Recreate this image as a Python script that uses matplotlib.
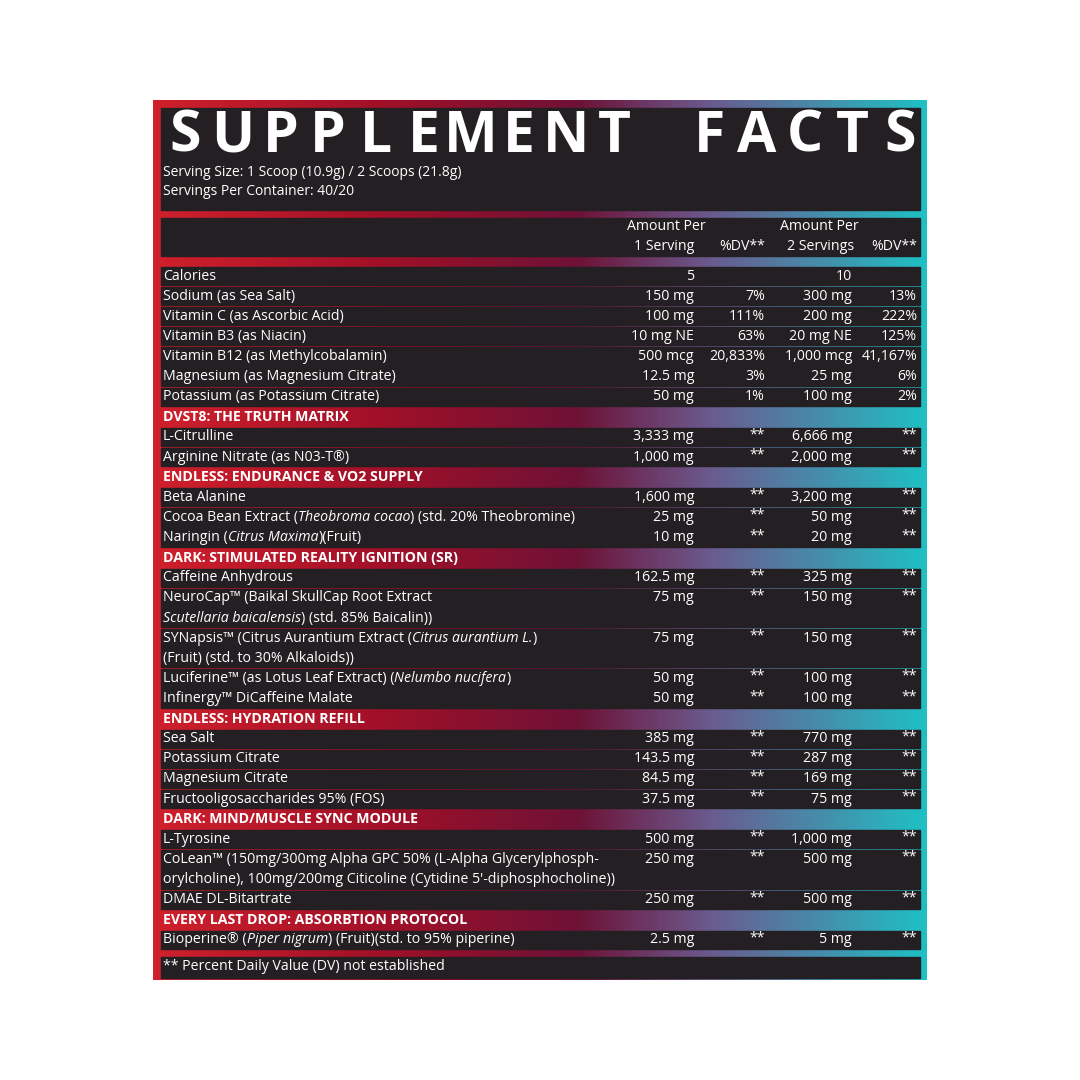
import numpy as np
import matplotlib
matplotlib.use('Agg')
import matplotlib.pyplot as plt
from matplotlib.colors import LinearSegmentedColormap
from matplotlib.patches import Rectangle

plt.rcParams['font.family'] = ['Open Sans', 'DejaVu Sans']

title = 'SUPPLEMENT FACTS'
serving_lines = ['Serving Size: 1 Scoop (10.9g) / 2 Scoops (21.8g)', 'Servings Per Container: 40/20']
footer = '** Percent Daily Value (DV) not established'

# rows: (kind, name segments, amount1, dv1, amount2, dv2, slots)
# name segments: list of (text, italic)
rows = [
    ('row', [('Calories', 0)], '5', '', '10', '', 1),
    ('row', [('Sodium (as Sea Salt)', 0)], '150 mg', '7%', '300 mg', '13%', 1),
    ('row', [('Vitamin C (as Ascorbic Acid)', 0)], '100 mg', '111%', '200 mg', '222%', 1),
    ('row', [('Vitamin B3 (as Niacin)', 0)], '10 mg NE', '63%', '20 mg NE', '125%', 1),
    ('row', [('Vitamin B12 (as Methylcobalamin)', 0)], '500 mcg', '20,833%', '1,000 mcg', '41,167%', 1),
    ('row', [('Magnesium (as Magnesium Citrate)', 0)], '12.5 mg', '3%', '25 mg', '6%', 1),
    ('row', [('Potassium (as Potassium Citrate)', 0)], '50 mg', '1%', '100 mg', '2%', 1),
    ('head', 'DVST8: THE TRUTH MATRIX'),
    ('row', [('L-Citrulline', 0)], '3,333 mg', '**', '6,666 mg', '**', 1),
    ('row', [('Arginine Nitrate (as N03-T®)', 0)], '1,000 mg', '**', '2,000 mg', '**', 1),
    ('head', 'ENDLESS: ENDURANCE & VO2 SUPPLY'),
    ('row', [('Beta Alanine', 0)], '1,600 mg', '**', '3,200 mg', '**', 1),
    ('row', [('Cocoa Bean Extract (', 0), ('Theobroma cocao', 1), (') (std. 20% Theobromine)', 0)], '25 mg', '**', '50 mg', '**', 1),
    ('row', [('Naringin (', 0), ('Citrus Maxima', 1), (')(Fruit)', 0)], '10 mg', '**', '20 mg', '**', 1),
    ('head', 'DARK: STIMULATED REALITY IGNITION (SR)'),
    ('row', [('Caffeine Anhydrous', 0)], '162.5 mg', '**', '325 mg', '**', 1),
    ('row', [('NeuroCap™ (Baikal SkullCap Root Extract', 0), ('\n', 0), ('Scutellaria baicalensis', 1), (') (std. 85% Baicalin))', 0)], '75 mg', '**', '150 mg', '**', 2),
    ('row', [('SYNapsis™ (Citrus Aurantium Extract (', 0), ('Citrus aurantium L.', 1), (')', 0), ('\n', 0), ('(Fruit) (std. to 30% Alkaloids))', 0)], '75 mg', '**', '150 mg', '**', 2),
    ('row', [('Luciferine™ (as Lotus Leaf Extract) (', 0), ('Nelumbo nucifera', 1), (')', 0)], '50 mg', '**', '100 mg', '**', 1),
    ('row', [('Infinergy™ DiCaffeine Malate', 0)], '50 mg', '**', '100 mg', '**', 1),
    ('head', 'ENDLESS: HYDRATION REFILL'),
    ('row', [('Sea Salt', 0)], '385 mg', '**', '770 mg', '**', 1),
    ('row', [('Potassium Citrate', 0)], '143.5 mg', '**', '287 mg', '**', 1),
    ('row', [('Magnesium Citrate', 0)], '84.5 mg', '**', '169 mg', '**', 1),
    ('row', [('Fructooligosaccharides 95% (FOS)', 0)], '37.5 mg', '**', '75 mg', '**', 1),
    ('head', 'DARK: MIND/MUSCLE SYNC MODULE'),
    ('row', [('L-Tyrosine', 0)], '500 mg', '**', '1,000 mg', '**', 1),
    ('row', [('CoLean™ (150mg/300mg Alpha GPC 50% (L-Alpha Glycerylphosph-', 0), ('\n', 0), ('orylcholine), 100mg/200mg Citicoline (Cytidine 5\'-diphosphocholine))', 0)], '250 mg', '**', '500 mg', '**', 2),
    ('row', [('DMAE DL-Bitartrate', 0)], '250 mg', '**', '500 mg', '**', 1),
    ('head', 'EVERY LAST DROP: ABSORBTION PROTOCOL'),
    ('row', [('Bioperine® (', 0), ('Piper nigrum', 1), (') (Fruit)(std. to 95% piperine)', 0)], '2.5 mg', '**', '5 mg', '**', 1),
]

W = 1080
fig = plt.figure(figsize=(10.8, 10.8), dpi=100)
ax = fig.add_axes([0, 0, 1, 1])
ax.set_xlim(0, W)
ax.set_ylim(W, 0)
ax.axis('off')

# gradient frame
L, R, T, B = 153, 927, 100, 980
cmap = LinearSegmentedColormap.from_list('g', [
    (0.0, '#d0202c'), (0.3, '#a01028'), (0.55, '#6e1236'),
    (0.72, '#6a5a8e'), (0.85, '#4a88a8'), (1.0, '#1fc0c4')])
grad = np.tile(np.linspace(0, 1, 400), (50, 1))
ax.imshow(grad, cmap=cmap, extent=[L, R, B, T], aspect='auto', zorder=0)

dark = '#231f22'
PL, PR = 161, 920
ax.add_patch(Rectangle((PL, 108), PR - PL, 102, color=dark, zorder=1))
ax.add_patch(Rectangle((PL, 218), PR - PL, 38, color=dark, zorder=1))
ax.add_patch(Rectangle((PL, 957), PR - PL, 21, color=dark, zorder=1))

# title with wide letter spacing
xs = np.linspace(185, 900, len(title))
for ch, x in zip(title, xs):
    ax.text(x, 137, ch, fontsize=41, fontweight='bold', color='white',
            ha='center', va='center', zorder=3)
for i, s in enumerate(serving_lines):
    ax.text(163, 173 + 18.5 * i, s, fontsize=10, color='white', va='center', zorder=3)

fs = 10.2
c1, c2, c3, c4 = 694, 765, 852, 917
ax.text(666, 227, 'Amount Per', fontsize=fs, color='white', ha='center', va='center', zorder=3)
ax.text(694, 246, '1 Serving', fontsize=fs, color='white', ha='right', va='center', zorder=3)
ax.text(765, 246, '%DV**', fontsize=fs, color='white', ha='right', va='center', zorder=3)
ax.text(819, 227, 'Amount Per', fontsize=fs, color='white', ha='center', va='center', zorder=3)
ax.text(854, 246, '2 Servings', fontsize=fs, color='white', ha='right', va='center', zorder=3)
ax.text(917, 246, '%DV**', fontsize=fs, color='white', ha='right', va='center', zorder=3)

fig.canvas.draw()
renderer = fig.canvas.get_renderer()
inv = ax.transData.inverted()


def seg_text(x0, y, segs):
    x = x0
    for txt, it in segs:
        if txt == '\n':
            x = x0
            y += 20.12
            continue
        t = ax.text(x, y, txt, fontsize=fs, color='white', va='center',
                    style='italic' if it else 'normal', zorder=3)
        bb = t.get_window_extent(renderer)
        x = inv.transform((bb.x1, bb.y0))[0]


step = 20.12
slot = 0
for r in rows:
    yc = 276 + step * slot
    if r[0] == 'head':
        ax.text(163, yc, r[1], fontsize=fs, fontweight='bold', color='white',
                va='center', zorder=3)
        slot += 1
        continue
    _, segs, a1, d1, a2, d2, n = r
    ax.add_patch(Rectangle((PL, yc - 9.2), PR - PL, step * n - 1.8, color=dark, zorder=1))
    seg_text(163, yc, segs)
    for val, x in ((a1, c1), (d1, c2), (a2, c3), (d2, c4)):
        ax.text(x, yc - (2 if val == '**' else 0), val, fontsize=fs, color='white',
                ha='right', va='center', zorder=3)
    slot += n

ax.text(163, 966, footer, fontsize=fs, color='white', va='center', zorder=3)

fig.savefig('out.png', dpi=100, facecolor='white')
